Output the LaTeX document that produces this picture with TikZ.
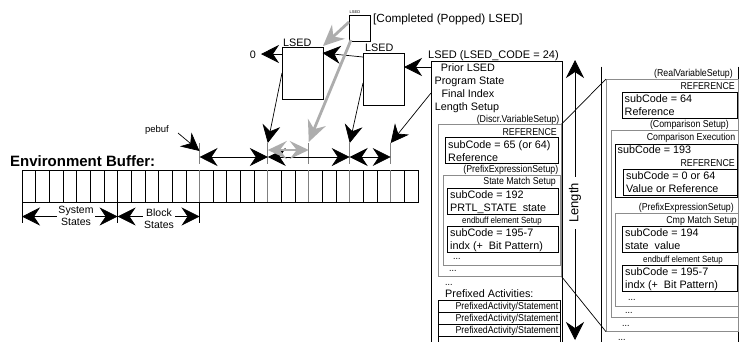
\documentclass[tikz,border=0pt]{standalone}
\usepackage{fontspec}
\setmainfont{Liberation Sans}
\newfontfamily\narrowfont[FakeStretch=0.88]{Liberation Sans}
\usetikzlibrary{arrows.meta}
\tikzset{
  ln/.style={line width=0.7pt},
  arr/.style={-{Stealth[length=18pt,width=18pt,inset=6pt]}},
  darr/.style={{Stealth[length=18pt,width=18pt,inset=6pt]}-{Stealth[length=18pt,width=18pt,inset=6pt]}},
  garr/.style={draw=black!32, line width=2.8pt, -{Stealth[length=21pt,width=19pt,inset=7pt]}, color=black!32},
  gdarr/.style={draw=black!32, line width=2pt, color=black!32, {Stealth[length=19pt,width=18pt,inset=7pt]}-{Stealth[length=19pt,width=18pt,inset=7pt]}},
  gtick/.style={draw=black!50, line width=1pt},
  tx/.style={inner sep=0pt, font=\fontsize{10.8}{12}\selectfont},
  nt/.style={inner sep=0pt, font=\narrowfont\fontsize{10}{12}\selectfont},
  st/.style={inner sep=0pt, font=\narrowfont\fontsize{9}{11}\selectfont},
  gbox/.style={draw=black!45, line width=0.7pt, inner sep=0pt, anchor=north west},
  bbox/.style={draw=black, line width=0.8pt, inner sep=0pt, anchor=north west},
  lbox/.style={draw=black, line width=0.8pt, inner sep=0pt, anchor=north west, fill=white},
}
\begin{document}
\begin{tikzpicture}[x=1pt,y=-1pt]
\useasboundingbox (0,0) rectangle (740,341);

% ---------- Environment buffer ----------
\node[anchor=base west, inner sep=0pt, font=\bfseries\fontsize{15}{17}\selectfont] (envlabel) at (10,166.7) {Environment Buffer:};
\node[draw, ln, anchor=north west, minimum width=396pt, minimum height=32pt, inner sep=0pt] (buf) at (22,170) {};
\foreach \i in {1,...,28} \draw[ln] (22+\i*13.655,170) -- (22+\i*13.655,202);
\foreach \i in {13,18,21,24,27} {
  \draw[gtick] (22+\i*13.655,170) -- (22+\i*13.655,202);
  \draw[gtick] (22+\i*13.655,143) -- (22+\i*13.655,164);
}

\coordinate (a13) at (199.515,157);
\coordinate (a18) at (267.79,157);
\coordinate (a24) at (349.72,157);
\coordinate (a27) at (390.685,157);
\coordinate (g18) at (267.79,150);
\coordinate (g21) at (308.755,150);
\coordinate (t13) at (199.515,151);
\coordinate (t18) at (267.79,143);
\coordinate (t21) at (308.755,142);
\coordinate (t24) at (349.72,143);
\coordinate (t27) at (390.685,143);

\draw[ln, darr] (a13) -- (a18);
\draw[ln, darr] (a18) -- (a24);
\draw[ln, darr] (a24) -- (a27);
\draw[gdarr] (g18) -- (g21);

% pebuf
\node[tx, font=\fontsize{9.5}{11}\selectfont] (pebuf) at (157,130) {pebuf};
\coordinate (pebufS) at (178,133);
\draw[ln, arr] (pebufS) -- (t13);

% below buffer: system / block states
\coordinate (b0t) at (22,202);   \coordinate (b0b) at (22,223);
\coordinate (b7t) at (117.585,202); \coordinate (b7b) at (117.585,223);
\coordinate (b13t) at (199.515,202); \coordinate (b13b) at (199.515,223);
\draw[ln] (b0t) -- (b0b);
\draw[ln] (b7t) -- (b7b);
\draw[ln] (b13t) -- (b13b);
\coordinate (s0) at (22,216.5);
\coordinate (s7) at (117.585,216.5);
\coordinate (s13) at (199.515,216.5);
\draw[ln, darr] (s0) -- (s7);
\draw[ln, darr] (s7) -- (s13);
\node[tx, fill=white, inner sep=1pt, align=center, font=\fontsize{10.5}{12}\selectfont] (sysst) at (76,216) {System\\States};
\node[tx, fill=white, inner sep=1pt, align=center, font=\fontsize{10.5}{12}\selectfont] (blkst) at (159,219) {Block\\States};

% ---------- LSED boxes ----------
\node[lbox, minimum width=40.5pt, minimum height=52pt] (lsedA) at (282,47) {};
\node[lbox, minimum width=41pt, minimum height=52pt] (lsedB) at (363,53) {};
\node[lbox, minimum width=21pt, minimum height=26pt] (lsedC) at (349,15) {};
\node[tx, anchor=base west] (lblA) at (283,46) {LSED};
\node[tx, anchor=base west] (lblB) at (365,51.5) {LSED};
\node[tx, anchor=base west, font=\fontsize{4}{5}\selectfont] (lblC) at (349.5,13.3) {LSED};
\node[tx, anchor=base west, font=\fontsize{11.8}{13}\selectfont] (compl) at (373,22.5) {[Completed (Popped) LSED]};
\node[tx, anchor=base] (zero) at (253,58) {0};

\coordinate (oA) at (282,54);
\coordinate (zeroE) at (261,54);
\draw[ln, arr] (oA) -- (zeroE);
\coordinate (bL) at (363,57);
\coordinate (aR) at (322.5,53);
\draw[ln, arr] (bL) -- (aR);
\coordinate (sL1) at (431,67);
\coordinate (bR) at (404,67);
\draw[ln, arr] (sL1) -- (bR);

\coordinate (aD) at (282,73);
\coordinate (bD) at (363,83);
\coordinate (sD) at (431,93);
\draw[ln, arr] (aD) -- (t18);
\draw[ln, arr] (bD) -- (t24);
\draw[ln, arr] (sD) -- (t27);

\coordinate (cD) at (351,40);
\coordinate (cL) at (349,22);
\coordinate (aTR) at (323,46);
\draw[garr] (cD) -- (t21);
\draw[garr] (cL) -- (aTR);

% ---------- LSED stack ----------
\node[tx, anchor=base west, font=\fontsize{11}{12}\selectfont] (stlbl) at (428,58) {LSED (LSED\_CODE = 24)};
\node[draw, ln, anchor=north west, minimum width=131pt, minimum height=300pt, inner sep=0pt] (stack) at (431,61) {};
\node[tx, anchor=base] (h1) at (468,71) {Prior LSED};
\node[tx, anchor=base] (h2) at (469.5,84) {Program State};
\node[tx, anchor=base] (h3) at (468,97) {Final Index};
\node[tx, anchor=base] (h4) at (467,110) {Length Setup};
\node[nt, anchor=base east] (discrlbl) at (559.5,122.6) {(Discr.VariableSetup)};
\node[gbox, minimum width=123.5pt, minimum height=152pt] (discr) at (437.5,124) {};
\node[nt, anchor=base east] (ref1) at (557,135) {REFERENCE};
\node[bbox, minimum width=113pt, minimum height=26pt] (box1) at (445,137) {};
\node[tx, anchor=base west] (b1a) at (448,148) {subCode = 65 (or 64)};
\node[tx, anchor=base west] (b1b) at (448,161) {Reference};
\node[nt, anchor=base east] (pfx1) at (558.5,172.6) {(PrefixExpressionSetup)};
\node[gbox, minimum width=117pt, minimum height=90pt] (pfxbox1) at (442.5,175) {};
\node[nt, anchor=base east] (sms) at (556,184.6) {State Match Setup};
\node[bbox, minimum width=111pt, minimum height=26pt] (box2) at (447,188) {};
\node[tx, anchor=base west] (b2a) at (450,198.9) {subCode = 192};
\node[tx, anchor=base west] (b2b) at (450,211.9) {PRTL\_STATE\ \ state};
\node[st, anchor=base] (ebs1) at (502,223.2) {endbuff element Setup};
\node[bbox, minimum width=111pt, minimum height=26pt] (box3) at (447,226) {};
\node[tx, anchor=base west] (b3a) at (450,236.9) {subCode = 195-7};
\node[tx, anchor=base west] (b3b) at (450,249.9) {indx (+\ \ Bit Pattern)};
\node[nt, anchor=base west] (d1) at (453,259.5) {...};
\node[nt, anchor=base west] (d2) at (449,271.5) {...};
\node[nt, anchor=base west] (d3) at (445,285) {...};
\node[tx, anchor=base west] (pact) at (445,297) {Prefixed Activities:};
\foreach \k in {0,1,2,3} {
  \node[bbox, minimum width=122pt, minimum height=12pt] (row\k) at (438,300+\k*12) {};
}
\node[nt, anchor=base east] (r0) at (558.5,309.6) {PrefixedActivity/Statement};
\node[nt, anchor=base east] (r1) at (558.5,321.6) {PrefixedActivity/Statement};
\node[nt, anchor=base east] (r2) at (558.5,333.6) {PrefixedActivity/Statement};

% Length arrow
\coordinate (lenT) at (575,60);
\coordinate (lenB) at (575,340);
\draw[ln, darr] (lenT) -- (lenB);
\node[tx, fill=white, inner sep=6pt, rotate=90, font=\fontsize{13}{14}\selectfont] (length) at (575,203) {Length};

% ---------- Right panel ----------
\coordinate (rpT) at (601.7,66.5);
\coordinate (rpB) at (601.7,350);
\draw[ln] (rpT) -- (rpB);
\coordinate (rpT2) at (738.3,66.5);
\coordinate (rpB2) at (738.3,350);
\draw[ln] (rpT2) -- (rpB2);
\node[nt, anchor=base east] (rvlbl) at (733,76.6) {(RealVariableSetup)};
\node[gbox, minimum width=131.5pt, minimum height=252pt] (realvar) at (606,79) {};
\node[nt, anchor=base east] (ref2) at (735,89.6) {REFERENCE};
\node[bbox, minimum width=115pt, minimum height=26pt] (rbox1) at (621.7,91.5) {};
\node[tx, anchor=base west] (rb1a) at (624.5,102) {subCode = 64};
\node[tx, anchor=base west] (rb1b) at (624.5,115) {Reference};
\node[nt, anchor=base east] (cmplbl) at (729,127) {(Comparison Setup)};
\node[gbox, minimum width=126.8pt, minimum height=187pt] (cmpbox) at (610.7,130) {};
\node[nt, anchor=base east] (cmpex) at (735.5,140.6) {Comparison Execution};
\node[bbox, minimum width=122pt, minimum height=53pt] (rbox2) at (615,143.5) {};
\node[tx, anchor=base west] (rb2a) at (617.5,153.5) {subCode = 193};
\node[nt, anchor=base east] (ref3) at (735,166.6) {REFERENCE};
\node[bbox, minimum width=114pt, minimum height=26pt] (rbox3) at (623,169) {};
\node[tx, anchor=base west] (rb3a) at (626,179) {subCode = 0 or 64};
\node[tx, anchor=base west] (rb3b) at (626,192) {Value or Reference};
\node[nt, anchor=base east] (pfx2) at (734,210) {(PrefixExpressionSetup)};
\node[gbox, minimum width=122.5pt, minimum height=93pt] (pfxbox2) at (615,213) {};
\node[nt, anchor=base east] (cms) at (737,223.6) {Cmp Match Setup};
\node[bbox, minimum width=115pt, minimum height=26pt] (rbox4) at (622,226) {};
\node[tx, anchor=base west] (rb4a) at (625,236.9) {subCode = 194};
\node[tx, anchor=base west] (rb4b) at (625,249.9) {state\ \ value};
\node[st, anchor=base] (ebs2) at (683,262.2) {endbuff element Setup};
\node[bbox, minimum width=115pt, minimum height=26pt] (rbox5) at (622,265) {};
\node[tx, anchor=base west] (rb5a) at (625,275.9) {subCode = 195-7};
\node[tx, anchor=base west] (rb5b) at (625,288.9) {indx (+\ \ Bit Pattern)};
\node[nt, anchor=base west] (e1) at (628,300) {...};
\node[nt, anchor=base west] (e2) at (625,313) {...};
\node[nt, anchor=base west] (e3) at (622,326) {...};
\node[nt, anchor=base west] (e4) at (618,340) {...};

% zoom lines
\draw[ln] (discr.north east) -- (realvar.north west);
\draw[ln] (discr.south east) -- (realvar.south west);
\end{tikzpicture}
\end{document}
